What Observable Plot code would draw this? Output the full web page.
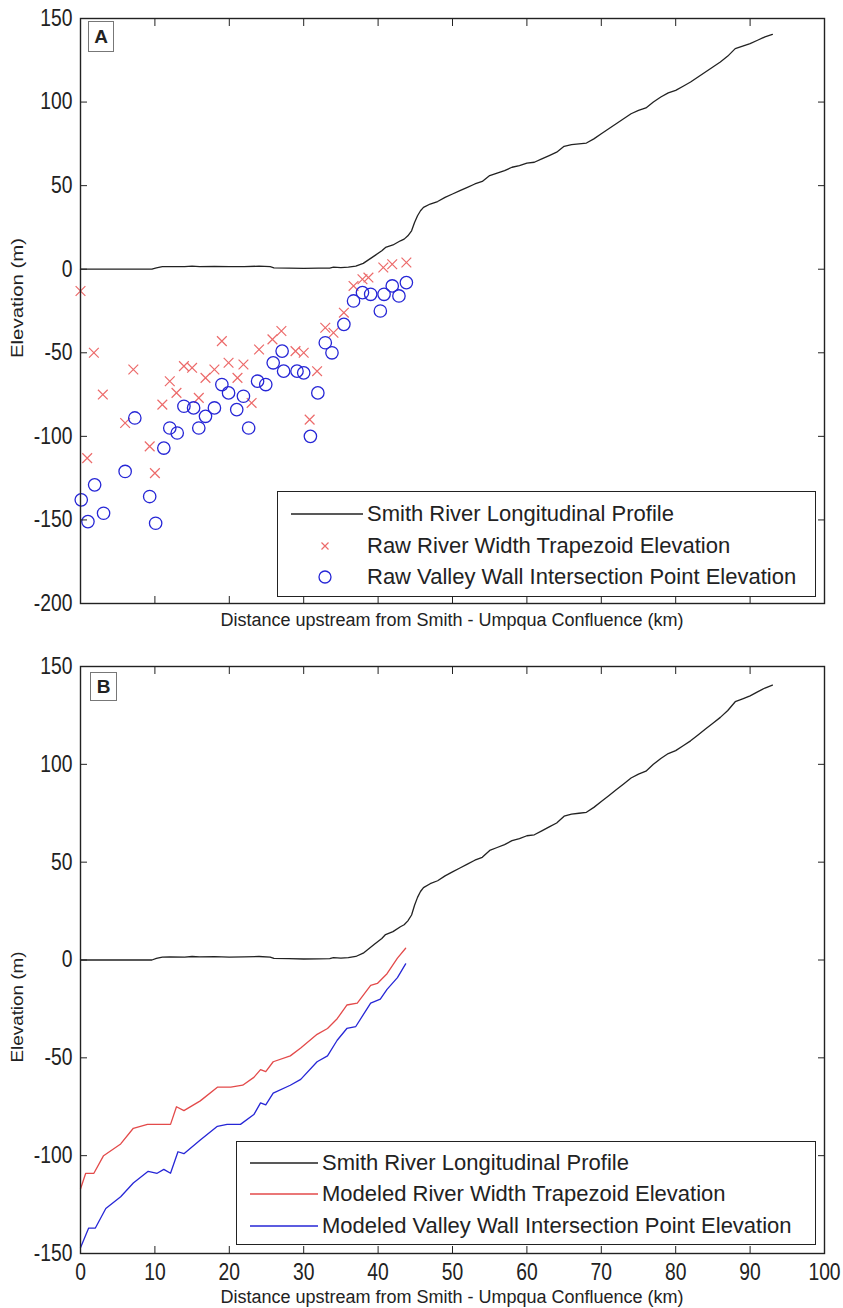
<!DOCTYPE html>
<html><head><meta charset="utf-8">
<script src="https://cdn.jsdelivr.net/npm/d3@7"></script>
<script src="https://cdn.jsdelivr.net/npm/@observablehq/plot@0.6"></script>
<style>
body{margin:0;background:#fff;}
#wrap{position:relative;width:843px;height:1308px;font-family:"Liberation Sans",Arial,sans-serif;color:#222;overflow:hidden;}
.panel{position:absolute;left:0;}
.xlab{position:absolute;left:80px;width:744px;text-align:center;font-size:18px;line-height:18px;white-space:nowrap;}
.ylab{position:absolute;font-size:16px;line-height:16px;white-space:nowrap;}
.tag{position:absolute;border:1px solid #777;background:#fff;font-weight:bold;font-size:19px;display:flex;align-items:center;justify-content:center;box-sizing:border-box;}
.legend{position:absolute;border:1.3px solid #222;background:#fff;font-size:22px;box-sizing:border-box;}
.row{position:absolute;left:0;height:30px;display:flex;align-items:center;white-space:nowrap;}
.row svg{flex:none;}
</style></head>
<body><div id="wrap"></div>
<script>
// ---------- data ----------
const xTicks = [0,10,20,30,40,50,60,70,80,90,100];
const yTicksA = [-200,-150,-100,-50,0,50,100,150];
const yTicksB = [-150,-100,-50,0,50,100,150];

const profileKm = [0,2,4,6,8,9.6,10.2,11,12,14,15,16,18,20,22,24,25.5,26,28,30,32,33.5,34,35,36,37,38,38.5,39.5,40.5,41,42,43,43.5,44,44.5,44.9,45.3,45.7,46.1,47,48,49,50,51,52,53,54,55,56,57,58,59,60,61,62,63,64,65,66,67,68,69,70,71,72,73,74,75,76,77,78,79,80,81,82,83,84,85,86,87,88,89,90,91,92,93];
const profileElev = [0,0,0,0,0,0,0.8,1.5,1.6,1.5,1.8,1.6,1.7,1.5,1.6,1.8,1.5,0.8,0.7,0.5,0.6,0.7,1.2,1.0,1.2,1.8,3.5,5,8,11,13,14.5,17,18,20,23,28,32,35,37,39,40.5,43,45,47,49,51,52.5,56,57.5,59,61,62,63.5,64,66,68,70,73.5,74.5,75,75.5,78,81,84,87,90,93,95,96.5,100,103,105.5,107,109.5,112,115,118,121,124,127.5,132,133.5,135,137,139,140.5];

const rawTrapKm = [0,0.9,1.8,3.0,6.0,7.1,9.3,10.0,11.0,12.0,12.9,13.9,15.0,15.9,16.8,18.0,19.0,19.9,21.1,21.9,23.0,24.0,25.8,27.0,28.9,30.0,30.8,31.8,32.9,34.0,35.4,36.7,37.9,38.7,40.7,41.9,43.8];
const rawTrapElev = [-13,-113,-50,-75,-92,-60,-106,-122,-81,-67,-74,-58,-59,-77,-65,-60,-43,-56,-65,-57,-80,-48,-42,-37,-49,-50,-90,-61,-35,-38,-26,-10,-6,-5,1,3,4];

const rawValleyKm = [0.1,1.0,1.9,3.1,6.0,7.3,9.3,10.1,11.2,12.0,13.0,13.9,15.2,15.9,16.8,18.0,19.0,19.9,21.0,21.9,22.6,23.8,24.9,25.9,27.1,27.3,29.1,30.0,30.9,31.9,32.9,33.8,35.4,36.7,37.9,39.0,40.3,40.8,41.9,42.8,43.8];
const rawValleyElev = [-138,-151,-129,-146,-121,-89,-136,-152,-107,-95,-98,-82,-83,-95,-88,-83,-69,-74,-84,-76,-95,-67,-69,-56,-49,-61,-61,-62,-100,-74,-44,-50,-33,-19,-14,-15,-25,-15,-10,-16,-8];

const modTrapKm = [0,0.7,1.8,3.1,5.4,7.1,9.0,10.3,12.1,12.9,13.9,16.1,18.4,20.2,21.8,23.3,24.2,24.9,25.9,28.2,29.6,31.8,33.2,34.5,35.8,37.2,39.0,39.9,41.2,42.6,43.7];
const modTrapElev = [-117,-109,-109,-100,-94,-86,-84,-84,-84,-75,-77,-72,-65,-65,-64,-60,-56,-57,-52,-49,-45,-38,-35,-30,-23,-22,-13,-12,-7,1,6];

const modValleyKm = [0,1.1,2.0,3.4,5.4,7.1,9.1,10.3,11.2,12.1,13.1,13.9,16.1,18.4,19.7,21.5,23.3,24.2,24.9,25.9,28.2,29.6,31.8,33.2,34.5,35.8,37.0,39.0,40.3,41.2,42.6,43.7];
const modValleyElev = [-147,-137,-137,-127,-121,-114,-108,-109,-107,-109,-98,-99,-92,-85,-84,-84,-79,-73,-74,-68,-64,-61,-52,-49,-41,-35,-34,-22,-20,-15,-9,-2];

const legendA = ["Smith River Longitudinal Profile","Raw River Width Trapezoid Elevation","Raw Valley Wall Intersection Point Elevation"];
const legendB = ["Smith River Longitudinal Profile","Modeled River Width Trapezoid Elevation","Modeled Valley Wall Intersection Point Elevation"];
const xTitle = "Distance upstream from Smith - Umpqua Confluence (km)";
const yTitle = "Elevation (m)";

// ---------- helpers ----------
const zip = (xs, ys) => xs.map((x, i) => ({km: x, elev: ys[i]}));
const profile = zip(profileKm, profileElev);
const rawTrap = zip(rawTrapKm, rawTrapElev);
const rawValley = zip(rawValleyKm, rawValleyElev);
const modTrap = zip(modTrapKm, modTrapElev);
const modValley = zip(modValleyKm, modValleyElev);

const BLACK = "#222", RED = "#e34a4a", BLUE = "#2626d6", XRED = "#ec6a6a";
const tickFont = '"Liberation Sans",Arial,sans-serif';
const fmt = d => String(d);

function frameAxes(yTicks, showXLabels) {
  return [
    Plot.axisY({anchor: "left", ticks: yTicks, tickFormat: fmt, tickSize: -7, tickPadding: 15, label: null, stroke: BLACK}),
    Plot.axisY({anchor: "right", ticks: yTicks, tickSize: -7, fill: "none", label: null, stroke: BLACK}),
    Plot.axisX({anchor: "bottom", ticks: xTicks, tickFormat: fmt, tickSize: -7, tickPadding: 17, label: null, stroke: BLACK, fill: showXLabels ? BLACK : "none"}),
    Plot.axisX({anchor: "top", ticks: xTicks, tickSize: -7, fill: "none", label: null, stroke: BLACK}),
    Plot.frame({stroke: BLACK, strokeWidth: 1.4})
  ];
}

// condense the tick labels horizontally (the reference's digits are tall and narrow)
function condense(svg) {
  d3.select(svg).selectAll('g[aria-label$="tick label"] text').each(function () {
    const t = this.getAttribute("transform") || "";
    this.setAttribute("transform", t + " scale(0.84,1)");
  });
}

const wrap = document.getElementById("wrap");

const chartA = Plot.plot({
  width: 843, height: 630,
  marginLeft: 80, marginRight: 19, marginTop: 18, marginBottom: 27,
  style: {fontFamily: tickFont, fontSize: "23px", color: BLACK, background: "transparent"},
  x: {domain: [0, 100]},
  y: {domain: [-200, 150]},
  marks: [
    Plot.line(profile, {x: "km", y: "elev", stroke: BLACK, strokeWidth: 1.3}),
    Plot.dot(rawTrap, {x: "km", y: "elev", symbol: "times", r: 4.5, stroke: XRED, strokeWidth: 1.2}),
    Plot.dot(rawValley, {x: "km", y: "elev", r: 6.2, stroke: BLUE, strokeWidth: 1.3, fill: "none"}),
    ...frameAxes(yTicksA, false)
  ]
});
condense(chartA);
chartA.classList.add("panel"); chartA.style.top = "0px";
wrap.appendChild(chartA);

const chartB = Plot.plot({
  width: 843, height: 678,
  marginLeft: 80, marginRight: 19, marginTop: 36, marginBottom: 55,
  style: {fontFamily: tickFont, fontSize: "23px", color: BLACK, background: "transparent"},
  x: {domain: [0, 100]},
  y: {domain: [-150, 150]},
  marks: [
    Plot.line(profile, {x: "km", y: "elev", stroke: BLACK, strokeWidth: 1.3}),
    Plot.line(modTrap, {x: "km", y: "elev", stroke: RED, strokeWidth: 1.3}),
    Plot.line(modValley, {x: "km", y: "elev", stroke: BLUE, strokeWidth: 1.3}),
    ...frameAxes(yTicksB, true)
  ]
});
condense(chartB);
chartB.classList.add("panel"); chartB.style.top = "630px";
wrap.appendChild(chartB);

// ---------- labels ----------
function addXLabel(top) {
  const d = document.createElement("div");
  d.className = "xlab"; d.style.top = top + "px"; d.textContent = xTitle;
  wrap.appendChild(d);
}
function addYLabel(cx, cy, len) {
  const d = document.createElement("div");
  d.className = "ylab"; d.textContent = yTitle;
  wrap.appendChild(d);
  const w = d.getBoundingClientRect().width;
  d.style.left = (cx - w / 2) + "px";
  d.style.top = (cy - 8) + "px";
  d.style.transform = `rotate(-90deg) scaleX(${len / w})`;
}
function addTag(letter, l, t, w, h) {
  const d = document.createElement("div");
  d.className = "tag"; d.textContent = letter;
  Object.assign(d.style, {left: l + "px", top: t + "px", width: w + "px", height: h + "px"});
  wrap.appendChild(d);
}
function swatch(kind, color, lineLen, symX) {
  const s = d3.create("svg").attr("width", lineLen + 4).attr("height", 20);
  if (kind === "line") s.append("line").attr("x1", 0).attr("x2", lineLen).attr("y1", 10).attr("y2", 10).attr("stroke", color).attr("stroke-width", 1.5);
  if (kind === "times") s.append("path").attr("d", `M${symX-3.5},6.5L${symX+3.5},13.5M${symX-3.5},13.5L${symX+3.5},6.5`).attr("stroke", color).attr("stroke-width", 1.2);
  if (kind === "circle") s.append("circle").attr("cx", symX).attr("cy", 10).attr("r", 6).attr("fill", "none").attr("stroke", color).attr("stroke-width", 1.3);
  return s.node();
}
function addLegend(box, items, rowCenters, padLeft, lineLen, symX) {
  const L = document.createElement("div");
  L.className = "legend";
  Object.assign(L.style, {left: box[0] + "px", top: box[1] + "px", width: box[2] + "px", height: box[3] + "px"});
  items.forEach((it, i) => {
    const r = document.createElement("div");
    r.className = "row";
    r.style.top = (rowCenters[i] - 15) + "px";
    r.style.left = padLeft + "px";
    r.appendChild(swatch(it.kind, it.color, lineLen, symX));
    const t = document.createElement("span");
    t.textContent = it.label;
    r.appendChild(t);
    L.appendChild(r);
  });
  wrap.appendChild(L);
}

addXLabel(611);
addXLabel(1288);
addYLabel(18, 298, 120);
addYLabel(18, 1007, 111);
addTag("A", 88, 21, 26, 31);
addTag("B", 90, 672, 27, 29);

addLegend([277, 491, 539, 106], [
  {kind: "line", color: BLACK, label: legendA[0]},
  {kind: "times", color: XRED, label: legendA[1]},
  {kind: "circle", color: BLUE, label: legendA[2]}
], [22, 54, 85], 13, 72, 34);

addLegend([236, 1141, 580, 104], [
  {kind: "line", color: BLACK, label: legendB[0]},
  {kind: "line", color: RED, label: legendB[1]},
  {kind: "line", color: BLUE, label: legendB[2]}
], [21, 52, 84], 13, 68, 34);
</script>
</body></html>
